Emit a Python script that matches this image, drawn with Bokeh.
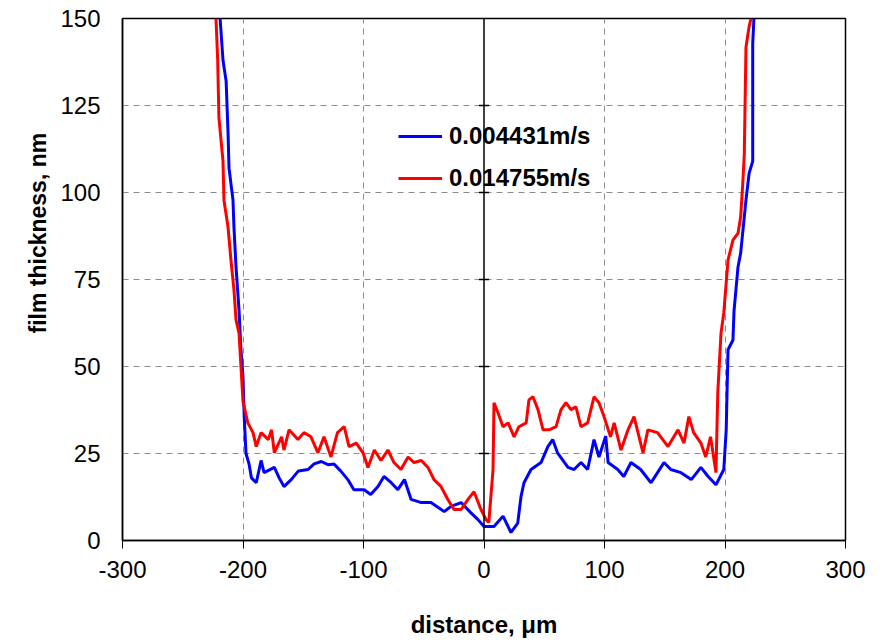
from bokeh.plotting import figure
from bokeh.models import Span, Legend, LegendItem, Range1d, FixedTicker, PrintfTickFormatter, Title
from bokeh.embed import file_html
from bokeh.resources import INLINE

# ---- data ----
blue_x = [-219, -216.6, -214, -212.4, -211.6, -208.3, -207.5, -205.8, -203.3, -201.7, -200, -199, -197.5, -195,
          -193, -189, -185, -182.5, -174, -170, -166, -160, -154, -146, -141, -135, -129.5, -124.5, -119, -113,
          -108, -99.5, -94, -88, -83, -77, -71.5, -66, -60.5, -52, -44, -33, -27.4, -19, -11, -5, 0, 8.3, 15.8,
          22.4, 28, 30.7, 33.2, 39, 47.3, 53, 57, 61, 69.7, 74.7, 80.5, 86, 91.3, 95.4, 101, 103, 111, 116, 122,
          130, 138.6, 144, 149.4, 155, 163.5, 172, 180, 186, 192.5, 199, 201, 202.5, 206.6, 207.5, 210.8, 213,
          217.4, 220, 223, 223, 224]
blue_y = [150, 138, 132, 117, 107, 97.8, 90, 78.6, 66.2, 54.8, 47, 35.6, 25, 22,
          18, 16.6, 23, 19.5, 21, 18, 15.5, 17.5, 20, 20.4, 22, 22.7, 21.8, 22, 20, 17.5,
          14.6, 14.6, 13.2, 15.5, 18.4, 16.6, 14.6, 17.5, 11.8, 10.9, 10.9, 8.3, 9.8, 10.9, 8, 6, 4, 4, 7,
          2.3, 5, 12.6, 16.6, 20.4, 22.4, 27, 29, 25.2, 21, 20.4, 22.4, 20.4, 29, 24, 30, 22.4, 20.4, 18.4, 22.4,
          20.4, 16.6, 19.5, 22.4, 20.4, 19.5, 17.5, 21, 18.4, 16, 20.4, 31.8, 54.8, 57.6, 66, 78.6, 82.6,
          97.8, 105.5, 109, 142.8, 150]

red_x = [-222.4, -221, -220, -216.6, -215.8, -212.4, -210, -207.5, -205.8, -203.3, -201.7, -200, -196, -191.7,
         -189, -185, -179, -176.3, -174, -168, -166, -161.8, -154.4, -149.4, -143.6, -137.8, -132.8, -127,
         -121.6, -116, -112, -106, -100.4, -96.3, -91, -85.5, -79.7, -74.7, -68.9, -63, -58, -52, -46.5, -41.5,
         -35.7, -30, -24.9, -19, -13.3, -8.3, -2.5, 1.7, 4, 7.5, 8.3, 11.6, 15.8, 20, 25, 29, 35, 37.3, 40.6,
         44.8, 49, 54, 59.8, 63.9, 68, 72.2, 76.3, 80.5, 86, 91.3, 95.4, 99.6, 105, 108, 113.7, 119.5, 124.5,
         132, 136, 144, 152.7, 161, 166, 170, 174, 180, 184, 188, 192.5, 194, 196.7, 199, 202.5, 206.6, 210.8,
         213, 214.9, 216, 217.4, 219.9, 221.6]
red_y = [150, 138, 121.6, 109, 97.8, 90, 80.6, 72, 63.4, 59.6, 50, 40, 33.8, 31,
         27, 31, 29, 31.8, 25.2, 29.8, 26, 31.8, 29, 31, 29.8, 25.2, 29.8, 24,
         31, 32.7, 27, 28, 25.2, 21, 26, 23, 26, 22.4, 20.4, 24, 22.4, 23, 21, 17.5,
         15.5, 11.8, 8.9, 8.9, 11.8, 14, 8.9, 6, 5.2, 20.4, 39.6, 36.7, 32.7, 33.8, 29.8, 32.7, 33.8, 40.4, 41.3,
         37.6, 31.8, 31.8, 32.7, 37.6, 39.6, 37.6, 38.4, 32.7, 33.8, 41.3, 39.6, 35.6, 29.8, 33.8, 26, 31.8, 35.6,
         25.2, 31.8, 31, 27, 31.8, 28, 35.6, 31, 28, 24, 29.8, 19.5, 42.4, 59.6, 65.4, 80.6, 86.3, 88.3,
         93, 103.5, 111, 141.7, 147.5, 150]

series_labels = ["0.004431m/s", "0.014755m/s"]
x_title = "distance, \u03bcm"
y_title = "film thickness, nm"
x_ticks = [-300, -200, -100, 0, 100, 200, 300]
y_ticks = [0, 25, 50, 75, 100, 125, 150]

assert len(blue_x) == len(blue_y)
assert len(red_x) == len(red_y)

FONT = "Liberation Sans"
W, H = 880, 640

p = figure(width=W, height=H, output_backend="svg", toolbar_location=None,
           x_range=Range1d(-300, 300), y_range=Range1d(0, 150),
           min_border_left=122, min_border_right=W - 845, min_border_top=18, min_border_bottom=H - 541)
p.background_fill_color = "white"
p.border_fill_color = "white"
p.outline_line_color = "black"
p.outline_line_width = 1.5

# grid
p.xgrid.ticker = FixedTicker(ticks=[t for t in x_ticks if t not in (-300, 0, 300)])
p.ygrid.ticker = FixedTicker(ticks=[t for t in y_ticks if t not in (0, 150)])
for g in (p.xgrid, p.ygrid):
    g.grid_line_color = "#8c8c8c"
    g.grid_line_dash = "6 5"
    g.grid_line_width = 1

# axes
p.xaxis.ticker = FixedTicker(ticks=x_ticks)
p.yaxis.ticker = FixedTicker(ticks=y_ticks)
p.xaxis.formatter = PrintfTickFormatter(format="%d")
p.yaxis.formatter = PrintfTickFormatter(format="%d")
p.xaxis.axis_label = x_title
for ax in (p.xaxis, p.yaxis):
    ax.axis_line_color = "black"
    ax.axis_line_width = 1.5
    ax.major_tick_line_color = "black"
    ax.minor_tick_line_color = None
    ax.major_label_text_font = FONT
    ax.major_label_text_font_size = "24px"
    ax.major_label_text_color = "black"
    ax.axis_label_text_font = FONT
    ax.axis_label_text_font_style = "bold"
    ax.axis_label_text_font_size = "24px"
    ax.axis_label_text_color = "black"
p.xaxis.major_tick_out = 8
p.xaxis.major_tick_in = 0
p.xaxis.major_label_standoff = 12
p.xaxis.axis_label_standoff = 30
p.yaxis.major_tick_out = 0
p.yaxis.major_tick_in = 0
p.yaxis.major_label_standoff = 22

# y title as a side title, shifted upward like the reference
p.add_layout(Title(text=y_title, align="left", offset=207, standoff=14,
                   text_font=FONT, text_font_style="bold", text_font_size="23px",
                   text_color="black"), "left")

# y axis crossing at x = 0
p.add_layout(Span(location=0, dimension="height", line_color="black", line_width=1.5))
p.scatter(x=[0] * len(y_ticks[1:-1]), y=y_ticks[1:-1], marker="dash", size=10,
          line_color="black", line_width=1.5)

r_blue = p.line(blue_x, blue_y, line_color="#0000ff", line_width=3)
r_red = p.line(red_x, red_y, line_color="#ff0000", line_width=3)

legend = Legend(items=[LegendItem(label=series_labels[0], renderers=[r_blue]),
                       LegendItem(label=series_labels[1], renderers=[r_red])],
                location=(276, 348), orientation="vertical")
legend.background_fill_alpha = 0
legend.border_line_color = None
legend.label_text_font = FONT
legend.label_text_font_style = "bold"
legend.label_text_font_size = "24px"
legend.label_text_color = "black"
legend.glyph_width = 44
legend.label_standoff = 7
legend.spacing = 14
legend.padding = 4
legend.margin = 0
p.add_layout(legend, "center")

open("out.html", "w").write(file_html(p, INLINE))
